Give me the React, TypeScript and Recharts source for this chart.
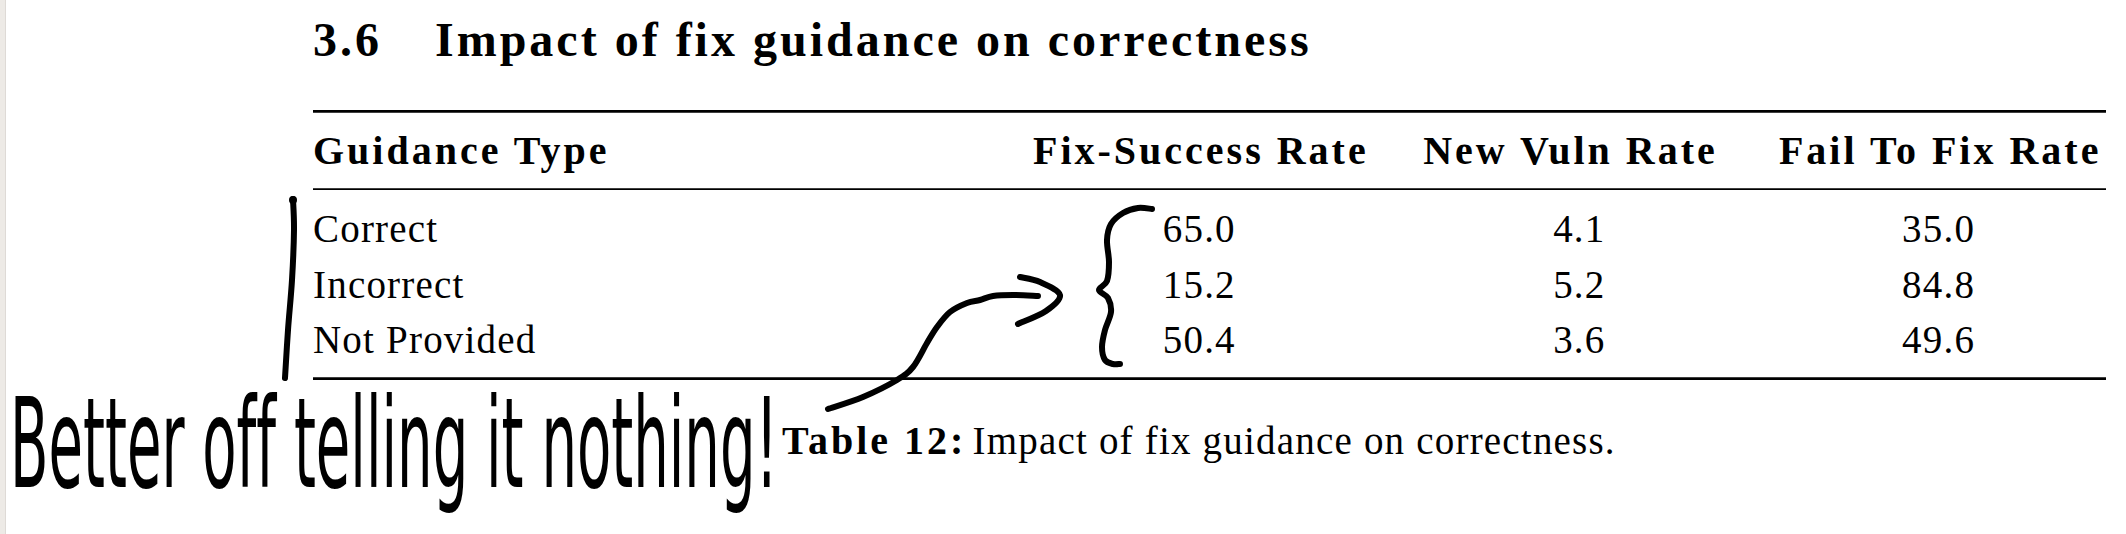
import React from 'react';
import { ScatterChart, Scatter, XAxis, YAxis, Customized } from 'recharts';

// table content
const guidanceTypes = ['Correct', 'Incorrect', 'Not Provided'];
const metricLabels = ['Fix-Success Rate', 'New Vuln Rate', 'Fail To Fix Rate'];
const fixSuccessRate = [65.0, 15.2, 50.4];
const newVulnRate = [4.1, 5.2, 3.6];
const failToFixRate = [35.0, 84.8, 49.6];

const sectionNumber = '3.6';
const sectionTitle = 'Impact of fix guidance on correctness';
const firstColumnHeader = 'Guidance Type';
const captionLabel = 'Table 12:';
const captionText = 'Impact of fix guidance on correctness.';
const noteText = 'Better off telling it nothing!';

// layout
const W = 2126;
const H = 534;
const TABLE_LEFT = 313;
const TABLE_RIGHT = 2106;
const BASELINE_SHIFT = 12.5;
const DECIMAL_HALF = 35; // numbers are aligned on the point like a "00.0" column

const serif = '"Liberation Serif", "Times New Roman", serif';
const bodyFont = { fontFamily: serif, fontSize: 39, letterSpacing: 1.2, fill: '#000' };
const boldFont = { fontFamily: serif, fontSize: 40, fontWeight: 700, letterSpacing: 3, fill: '#000' };

const toPoints = (metric: string, values: number[]) =>
  guidanceTypes.map((guidance, i) => ({ metric, guidance, value: values[i] }));

const fixSuccessPoints = toPoints(metricLabels[0], fixSuccessRate);
const newVulnPoints = toPoints(metricLabels[1], newVulnRate);
const failToFixPoints = toPoints(metricLabels[2], failToFixRate);

const CellText = (props: any) => {
  const { cx, cy, payload } = props;
  if (cx == null || cy == null) return null;
  return (
    <text x={cx + DECIMAL_HALF} y={cy + BASELINE_SHIFT} textAnchor="end" style={bodyFont}>
      {payload.value.toFixed(1)}
    </text>
  );
};

const HeaderTick = (props: any) => {
  const { x, y, payload } = props;
  return (
    <text x={x} y={y - 38} textAnchor="middle" style={boldFont}>
      {payload.value}
    </text>
  );
};

const RowTick = (props: any) => {
  const { y, payload } = props;
  return (
    <text x={TABLE_LEFT} y={y + BASELINE_SHIFT} textAnchor="start" style={bodyFont}>
      {payload.value}
    </text>
  );
};

// catmull-rom through the pen points
const smoothPath = (pts: number[][]) => {
  let d = `M${pts[0][0]},${pts[0][1]}`;
  for (let i = 0; i < pts.length - 1; i++) {
    const p0 = pts[i - 1] || pts[i];
    const p1 = pts[i];
    const p2 = pts[i + 1];
    const p3 = pts[i + 2] || p2;
    const c1x = p1[0] + (p2[0] - p0[0]) / 6;
    const c1y = p1[1] + (p2[1] - p0[1]) / 6;
    const c2x = p2[0] - (p3[0] - p1[0]) / 6;
    const c2y = p2[1] - (p3[1] - p1[1]) / 6;
    d += ` C${c1x},${c1y} ${c2x},${c2y} ${p2[0]},${p2[1]}`;
  }
  return d;
};

const penBar = [[293, 199], [294, 230], [292, 280], [288, 330], [285, 378]];
const penBrace = [
  [1152, 209], [1138, 208], [1123, 213], [1111, 224], [1107, 240], [1109, 262],
  [1107, 281], [1099, 290], [1108, 298], [1111, 312], [1105, 330], [1102, 347],
  [1105, 360], [1113, 364], [1120, 364],
];
const penArrow = [
  [828, 409], [863, 397], [897, 380], [913, 367], [927, 343], [937, 327],
  [950, 312], [967, 303], [980, 300], [993, 296], [1013, 295], [1038, 296],
];
const penArrowHead = [[1020, 277], [1040, 282], [1060, 295], [1046, 311], [1018, 324]];

const pen = { fill: 'none', stroke: '#000', strokeWidth: 6, strokeLinecap: 'round' as const, strokeLinejoin: 'round' as const };

const PageLayer = () => (
  <g>
    <rect x={0} y={0} width={5} height={H} fill="#edeae6" />
    <line x1={5.5} y1={0} x2={5.5} y2={H} stroke="#dedad6" strokeWidth={1} />

    <text x={TABLE_LEFT} y={56} style={{ ...boldFont, fontSize: 48 }}>{sectionNumber}</text>
    <text x={435} y={56} style={{ ...boldFont, fontSize: 48 }}>{sectionTitle}</text>

    <line x1={TABLE_LEFT} x2={TABLE_RIGHT} y1={111.3} y2={111.3} stroke="#000" strokeWidth={2.7} />
    <text x={TABLE_LEFT} y={164} style={boldFont}>{firstColumnHeader}</text>
    <line x1={TABLE_LEFT} x2={TABLE_RIGHT} y1={189.2} y2={189.2} stroke="#000" strokeWidth={1.7} />
    <line x1={TABLE_LEFT} x2={TABLE_RIGHT} y1={378.7} y2={378.7} stroke="#000" strokeWidth={2.7} />

    <text x={782} y={454} style={bodyFont}>
      <tspan style={boldFont}>{captionLabel}</tspan>
      <tspan dx={6}>{captionText}</tspan>
    </text>

    <path d={smoothPath(penBar)} {...pen} />
    <circle cx={293} cy={200} r={4} fill="#000" />
    <path d={smoothPath(penBrace)} {...pen} />
    <path d={smoothPath(penArrow)} {...pen} />
    <path d={smoothPath(penArrowHead)} {...pen} />

    {/* handwritten note, squeezed sideways like the pen strokes */}
    <g transform="translate(10,487) scale(0.4486,1)">
      <text
        x={0}
        y={0}
        style={{ fontFamily: '"DejaVu Sans", sans-serif', fontSize: 125, fill: '#000', fontVariantLigatures: 'none' }}
      >
        {noteText}
      </text>
    </g>
  </g>
);

export default function App() {
  return (
    <div style={{ width: W, height: H, background: '#fff' }}>
      <style>{'body{margin:0;background:#fff}'}</style>
      <ScatterChart width={W} height={H} margin={{ top: 0, right: 1, bottom: 165.5, left: 0 }}>
        <XAxis
          type="category"
          dataKey="metric"
          orientation="top"
          allowDuplicatedCategory={false}
          height={202}
          axisLine={false}
          tickLine={false}
          tickSize={0}
          tickMargin={0}
          interval={0}
          tick={<HeaderTick />}
        />
        <YAxis
          type="category"
          dataKey="guidance"
          allowDuplicatedCategory={false}
          reversed
          width={1016}
          axisLine={false}
          tickLine={false}
          tickSize={0}
          tickMargin={0}
          interval={0}
          tick={<RowTick />}
        />
        <Customized component={PageLayer} />
        <Scatter data={fixSuccessPoints} shape={CellText} isAnimationActive={false} />
        <Scatter data={newVulnPoints} shape={CellText} isAnimationActive={false} />
        <Scatter data={failToFixPoints} shape={CellText} isAnimationActive={false} />
      </ScatterChart>
    </div>
  );
}
